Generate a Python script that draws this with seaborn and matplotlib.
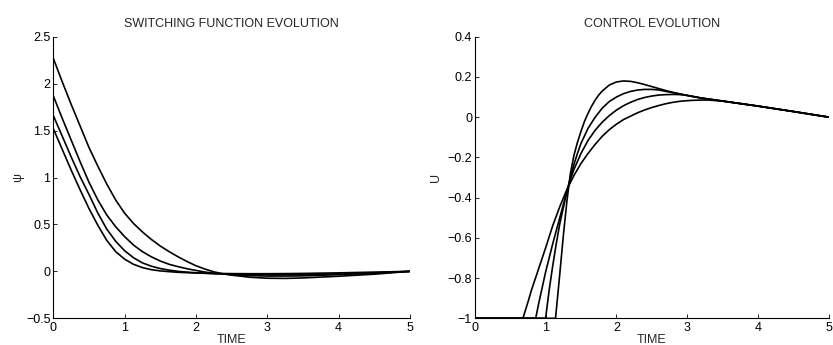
import matplotlib
matplotlib.use('Agg')
import matplotlib.pyplot as plt
from matplotlib.ticker import FuncFormatter
import pandas as pd
import seaborn as sns

# switching function psi(t), four runs on a common time grid
psi_time = [0, 0.125, 0.25, 0.375, 0.5, 0.625, 0.75, 0.875, 1.0, 1.125, 1.25, 1.375, 1.5, 1.625, 1.75, 1.875,
            2.0, 2.125, 2.25, 2.375, 2.5, 2.75, 3.0, 3.25, 3.5, 4.0, 4.5, 5.0]
psi_1 = [2.27, 2.02, 1.78, 1.55, 1.32, 1.12, 0.93, 0.76, 0.62, 0.51, 0.42, 0.34, 0.27, 0.21, 0.155, 0.105,
         0.06, 0.025, -0.005, -0.025, -0.04, -0.062, -0.073, -0.075, -0.07, -0.052, -0.03, 0.0]
psi_2 = [1.87, 1.63, 1.40, 1.17, 0.95, 0.76, 0.60, 0.475, 0.37, 0.28, 0.21, 0.155, 0.11, 0.075, 0.05, 0.028,
         0.01, -0.007, -0.02, -0.028, -0.035, -0.045, -0.05, -0.05, -0.048, -0.035, -0.02, 0.0]
psi_3 = [1.66, 1.44, 1.22, 1.01, 0.82, 0.62, 0.45, 0.32, 0.22, 0.145, 0.09, 0.055, 0.03, 0.013, 0.0, -0.008,
         -0.015, -0.02, -0.025, -0.028, -0.03, -0.035, -0.037, -0.037, -0.035, -0.027, -0.015, 0.0]
psi_4 = [1.52, 1.30, 1.08, 0.87, 0.67, 0.49, 0.33, 0.21, 0.13, 0.075, 0.04, 0.018, 0.005, -0.003, -0.01, -0.014,
         -0.018, -0.02, -0.022, -0.023, -0.024, -0.025, -0.025, -0.024, -0.022, -0.016, -0.008, 0.0]

# control u(t), each run leaves the lower bound at a different time
u_time_a = [0, 1.14, 1.17, 1.2, 1.25, 1.3, 1.35, 1.4, 1.45, 1.5, 1.55, 1.6, 1.65, 1.7, 1.75, 1.8, 1.9, 2.0, 2.1,
            2.2, 2.3, 2.4, 2.5, 2.6, 2.7, 2.8, 2.9, 3.0, 3.2, 3.5, 4.0, 4.5, 5.0]
u_a = [-1, -1, -0.89, -0.78, -0.59, -0.42, -0.28, -0.19, -0.125, -0.07, -0.02, 0.02, 0.055, 0.085, 0.11, 0.13,
       0.16, 0.175, 0.18, 0.178, 0.171, 0.162, 0.152, 0.142, 0.132, 0.123, 0.115, 0.108, 0.095, 0.08, 0.055, 0.028, 0.0]
u_time_b = [0, 1.0, 1.05, 1.1, 1.15, 1.2, 1.25, 1.3, 1.35, 1.4, 1.45, 1.5, 1.6, 1.7, 1.8, 1.9, 2.0, 2.1, 2.2,
            2.3, 2.4, 2.5, 2.6, 2.7, 2.8, 3.0, 3.2, 3.5, 4.0, 4.5, 5.0]
u_b = [-1, -1, -0.86, -0.74, -0.63, -0.53, -0.45, -0.37, -0.30, -0.235, -0.18, -0.13, -0.055, 0.0, 0.045, 0.078,
       0.10, 0.117, 0.128, 0.135, 0.138, 0.138, 0.135, 0.128, 0.122, 0.108, 0.095, 0.08, 0.055, 0.028, 0.0]
u_time_c = [0, 0.86, 0.9, 0.95, 1.0, 1.05, 1.1, 1.15, 1.2, 1.25, 1.3, 1.35, 1.4, 1.5, 1.6, 1.7, 1.8, 1.9, 2.0,
            2.1, 2.2, 2.3, 2.4, 2.5, 2.6, 2.7, 2.8, 2.9, 3.0, 3.2, 3.5, 4.0, 4.5, 5.0]
u_c = [-1, -1, -0.93, -0.85, -0.77, -0.70, -0.63, -0.565, -0.50, -0.435, -0.37, -0.31, -0.26, -0.18, -0.115,
       -0.065, -0.025, 0.008, 0.035, 0.057, 0.074, 0.088, 0.098, 0.105, 0.11, 0.112, 0.113, 0.112, 0.108, 0.095,
       0.08, 0.055, 0.028, 0.0]
u_time_d = [0, 0.68, 0.75, 0.8, 0.9, 1.0, 1.1, 1.2, 1.3, 1.4, 1.5, 1.6, 1.7, 1.8, 1.9, 2.0, 2.1, 2.2, 2.3, 2.4,
            2.5, 2.6, 2.7, 2.8, 2.9, 3.0, 3.1, 3.2, 3.3, 3.5, 4.0, 4.5, 5.0]
u_d = [-1, -1, -0.92, -0.86, -0.755, -0.65, -0.54, -0.445, -0.36, -0.29, -0.23, -0.18, -0.135, -0.095, -0.062,
       -0.035, -0.012, 0.005, 0.022, 0.036, 0.048, 0.058, 0.067, 0.074, 0.079, 0.082, 0.084, 0.085, 0.085, 0.08,
       0.055, 0.028, 0.0]

psi_runs = [psi_1, psi_2, psi_3, psi_4]
u_runs = [(u_time_a, u_a), (u_time_b, u_b), (u_time_c, u_c), (u_time_d, u_d)]

df_psi = pd.concat([pd.DataFrame({'t': psi_time, 'psi': vals, 'run': i})
                    for i, vals in enumerate(psi_runs)], ignore_index=True)
df_u = pd.concat([pd.DataFrame({'t': tt, 'u': vals, 'run': i})
                  for i, (tt, vals) in enumerate(u_runs)], ignore_index=True)

sns.set_style('ticks')
plt.rcParams['font.family'] = ['Liberation Sans', 'DejaVu Sans']
plt.rcParams['xtick.direction'] = 'in'
plt.rcParams['ytick.direction'] = 'in'
plt.rcParams['axes.edgecolor'] = 'black'
plt.rcParams['axes.linewidth'] = 0.8

fig = plt.figure(figsize=(8.33, 3.45), dpi=100)
ax1 = fig.add_axes([0.064, 0.0774, 0.428, 0.8162])
ax2 = fig.add_axes([0.570, 0.0774, 0.425, 0.8162])

sns.lineplot(data=df_psi, x='t', y='psi', units='run', estimator=None,
             color='black', lw=1.2, ax=ax1)
sns.lineplot(data=df_u, x='t', y='u', units='run', estimator=None,
             color='black', lw=1.2, ax=ax2)

fmt = FuncFormatter(lambda v, p: f'{v:g}'.replace('-', '\u2212'))

for ax, title, ylab, ylim, yticks in [
        (ax1, 'SWITCHING FUNCTION EVOLUTION', '\u03c8', (-0.5, 2.5), [-0.5, 0, 0.5, 1, 1.5, 2, 2.5]),
        (ax2, 'CONTROL EVOLUTION', 'U', (-1, 0.4), [-1, -0.8, -0.6, -0.4, -0.2, 0, 0.2, 0.4])]:
    ax.set_xlim(0, 5)
    ax.set_ylim(*ylim)
    ax.set_xticks([0, 1, 2, 3, 4, 5])
    ax.set_yticks(yticks)
    ax.yaxis.set_major_formatter(fmt)
    ax.tick_params(axis='both', labelsize=9, length=3, width=0.6, colors='black')
    ax.tick_params(axis='y', pad=2)
    ax.tick_params(axis='x', pad=3)
    sns.despine(ax=ax)
    ax.set_title(title, fontsize=9, pad=7)
    ax.set_xlabel('TIME', fontsize=9)
    ax.set_ylabel(ylab, fontsize=9)
    ax.xaxis.set_label_coords(0.5, -0.055)
    ax.set_facecolor('white')

ax1.yaxis.set_label_coords(-0.083, 0.5)
ax2.yaxis.set_label_coords(-0.093, 0.5)

fig.savefig('out.png', dpi=100, facecolor='white')
